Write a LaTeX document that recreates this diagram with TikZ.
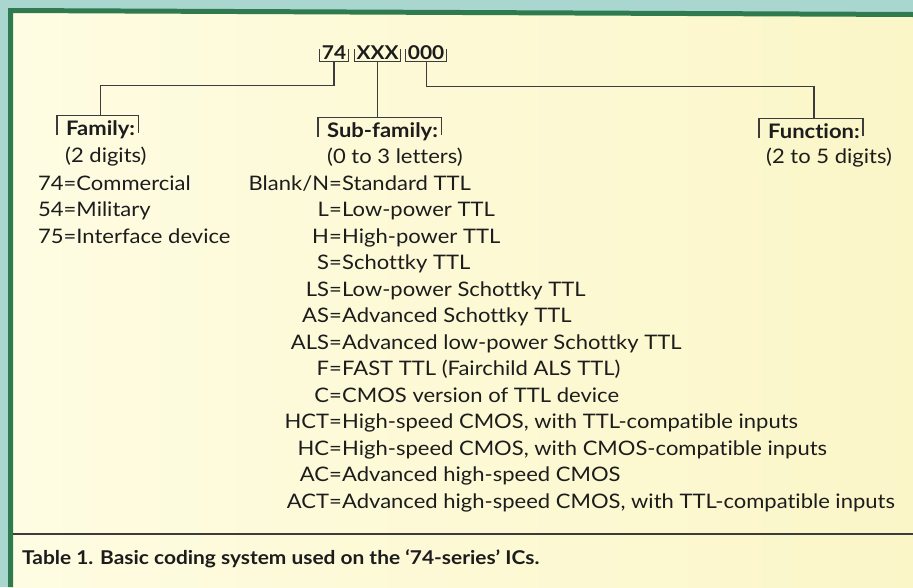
\documentclass[tikz,border=0pt]{standalone}
\usepackage{fontspec}
\setmainfont{Lato}[FakeStretch=1.1,Ligatures=NoCommon]
\usetikzlibrary{positioning,calc}
\definecolor{paper}{HTML}{FEFCE2}
\definecolor{paperdeep}{HTML}{FBF6C8}
\definecolor{sea}{HTML}{A9D7D0}
\definecolor{rim}{HTML}{2F7A4E}
\definecolor{ink}{HTML}{1C1C1C}
\definecolor{wire}{HTML}{3C3C3C}

\begin{document}
\begin{tikzpicture}[x=1pt,y=-1pt,
  rule/.style={wire,line width=1.1pt},
  code/.style={font=\fontsize{19}{19}\selectfont\bfseries,text=ink,text height=13pt,text depth=0pt,inner xsep=2pt,inner ysep=2pt},
  head/.style={font=\fontsize{20}{20}\selectfont\bfseries,text=ink,text height=19pt,text depth=0pt,inner sep=0pt,anchor=base west},
  entry/.style={font=\fontsize{20}{20}\selectfont,text=ink,inner sep=0pt}]
  \useasboundingbox (0,0) rectangle (913,587);
  \fill[sea] (0,0) rectangle (913,587);
  \shade[left color=paper,right color=paperdeep] (10,12) rectangle (913,587);
  \fill[rim] (8,8) -- (913,12) -- (913,17) -- (13,13) -- (13,587) -- (8,587) -- cycle;
  \draw[wire,line width=2pt] (13,534) -- (913,534);

  \node[code,anchor=base] (c74) at (334,59) {74};
  \node[code,right=6pt of c74] (cxxx) {XXX};
  \node[code,right=5pt of cxxx] (c000) {000};
  \foreach \n in {c74,cxxx,c000}
    \draw[rule] ([yshift=12pt]\n.south west) -- (\n.south west) -- (\n.south east) -- ([yshift=12pt]\n.south east);

  \node[head] (famhd) at (66,135) {Family:};
  \node[head] (subhd) at (327,137) {Sub-family:};
  \node[head] (funhd) at (768,138) {Function:};
  \foreach \n in {famhd,subhd,funhd}
    \draw[rule] ([xshift=-9pt]\n.south west) -- ([xshift=-9pt]\n.north west) -- ([xshift=3pt]\n.north east) -- ([xshift=3pt,yshift=2pt]\n.south east);

  \draw[rule] (c74.south) -- ++(0,24) -| (famhd.north);
  \draw[rule] (cxxx.south) -- (cxxx.south |- subhd.north);
  \draw[rule] (c000.south) -- ++(0,25) -| (funhd.north);

  \node[entry,anchor=base west] (famnote) at (65,162) {(2 digits)};
  \node[entry,anchor=base west] (subnote) at (327,163) {(0 to 3 letters)};
  \node[entry,anchor=base west] (funnote) at (766,163) {(2 to 5 digits)};

  \foreach \v/\w [count=\i from 0] in {74/Commercial,54/Military,75/Interface device}
    \node[entry,anchor=base west] (fam\i) at (38,{190+26.5*\i}) {\v=\w};

  \foreach \v/\w [count=\i from 0] in {{Blank/N}/{Standard TTL},L/{Low-power TTL},H/{High-power TTL},S/{Schottky TTL},
      LS/{Low-power Schottky TTL},AS/{Advanced Schottky TTL},ALS/{Advanced low-power Schottky TTL},
      F/{FAST TTL (Fairchild ALS TTL)},C/{CMOS version of TTL device},
      HCT/{High-speed CMOS, with TTL-compatible inputs},HC/{High-speed CMOS, with CMOS-compatible inputs},
      AC/{Advanced high-speed CMOS},ACT/{Advanced high-speed CMOS, with TTL-compatible inputs}} {
    \node[entry,anchor=base east] (key\i) at (342,{190+26.5*\i}) {\v=};
    \node[entry,anchor=base west] (val\i) at (key\i.base east) {\w};
  }

  \node[font=\fontsize{19}{19}\selectfont\bfseries,text=ink,anchor=base west,inner sep=0pt] (caption) at (22,564) {Table 1. Basic coding system used on the ‘74-series’ ICs.};
\end{tikzpicture}
\end{document}
